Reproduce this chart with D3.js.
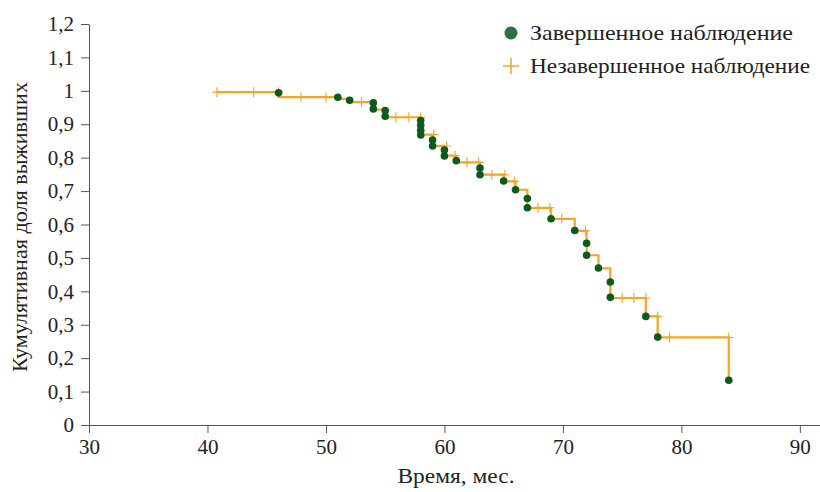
<!DOCTYPE html>
<html>
<head>
<meta charset="utf-8">
<script src="https://cdn.jsdelivr.net/npm/d3@7"></script>
<style>
  body { margin: 0; background: #fff; }
  svg text { font-family: "Liberation Serif", "DejaVu Serif", serif; fill: #222; }
</style>
</head>
<body>
<div id="chart"></div>
<script>
// step line of the survival curve: [time, cumulative share]
const stepTimes  = [40.8, 46, 51, 52, 54, 55, 58, 59, 60, 61, 63, 65, 66, 67, 69, 71, 72, 73, 74, 77, 78, 84];
const stepValues = [0.996, 0.981, 0.976, 0.966, 0.944, 0.921, 0.869, 0.835, 0.806, 0.786, 0.749, 0.729, 0.704, 0.650, 0.617, 0.581, 0.508, 0.469, 0.380, 0.325, 0.262, 0.134];

// completed observations (events)
const eventTimes  = [46, 51, 52, 54, 54, 55, 55, 58, 58, 58, 58, 59, 59, 60, 60, 61, 63, 63, 65, 66, 67, 67, 69, 71, 72, 72, 73, 74, 74, 77, 78, 84];
const eventValues = [0.994, 0.981, 0.972, 0.964, 0.946, 0.941, 0.924, 0.911, 0.897, 0.882, 0.868, 0.853, 0.835, 0.823, 0.805, 0.791, 0.769, 0.749, 0.730, 0.704, 0.678, 0.650, 0.617, 0.582, 0.544, 0.508, 0.470, 0.428, 0.382, 0.325, 0.263, 0.134];

// censored observations
const censTimes  = [40.8, 43.9, 46, 47.9, 50, 53, 55.9, 57, 58, 59.1, 60.2, 60.9, 61.9, 62.9, 64, 65.1, 65.9, 67.9, 68.9, 69.9, 71.9, 75, 76, 77, 78, 79, 84];
const censValues = [0.996, 0.996, 0.996, 0.981, 0.981, 0.966, 0.921, 0.921, 0.921, 0.869, 0.835, 0.806, 0.786, 0.786, 0.749, 0.749, 0.729, 0.650, 0.650, 0.617, 0.581, 0.380, 0.380, 0.380, 0.325, 0.262, 0.262];

const xTicks = [30, 40, 50, 60, 70, 80, 90];
const yTicks = [0, 0.1, 0.2, 0.3, 0.4, 0.5, 0.6, 0.7, 0.8, 0.9, 1, 1.1, 1.2];

const legendLabels = ['Завершенное наблюдение', 'Незавершенное наблюдение'];

const width = 820, height = 492;
const orange = '#F7A521', green = '#0B5A1E';

const svg = d3.select('#chart').append('svg')
  .attr('width', width)
  .attr('height', height);

const x = d3.scaleLinear().domain([30, 91.7]).range([89, 820]);
const y = d3.scaleLinear().domain([0, 1.2]).range([425, 24]);

const fmt = d => String(+d.toFixed(1)).replace('.', ',');

// x axis
const xAxis = svg.append('g')
  .attr('transform', `translate(0,${y(0)})`)
  .call(d3.axisBottom(x).tickValues(xTicks).tickSize(8).tickSizeOuter(0).tickPadding(6));
// y axis
const yAxis = svg.append('g')
  .attr('transform', `translate(${x(30)},0)`)
  .call(d3.axisLeft(y).tickValues(yTicks).tickFormat(fmt).tickSize(8).tickSizeOuter(0).tickPadding(7));

[xAxis, yAxis].forEach(g => {
  g.select('.domain').attr('stroke', '#555').attr('stroke-width', 1);
  g.selectAll('.tick line').attr('stroke', '#555');
  g.selectAll('.tick text').attr('font-size', 21).attr('fill', '#222')
    .style('font-family', '"Liberation Serif", "DejaVu Serif", serif');
});

svg.append('text')
  .attr('x', 456).attr('y', 483)
  .attr('text-anchor', 'middle')
  .attr('font-size', 21)
  .attr('textLength', 117)
  .attr('lengthAdjust', 'spacingAndGlyphs')
  .text('Время, мес.');

svg.append('text')
  .attr('transform', 'translate(27,227) rotate(-90)')
  .attr('text-anchor', 'middle')
  .attr('font-size', 21)
  .attr('textLength', 290)
  .attr('lengthAdjust', 'spacingAndGlyphs')
  .text('Кумулятивная доля выживших');

// survival step line
const stepData = stepTimes.map((t, i) => [t, stepValues[i]]);
const line = d3.line()
  .x(d => x(d[0]))
  .y(d => y(d[1]))
  .curve(d3.curveStepAfter);

svg.append('path')
  .datum(stepData)
  .attr('d', line)
  .attr('fill', 'none')
  .attr('stroke', orange)
  .attr('stroke-width', 2.2);

// censored marks
const cens = censTimes.map((t, i) => [t, censValues[i]]);
svg.append('g').selectAll('path')
  .data(cens)
  .enter()
  .append('path')
  .attr('d', d => `M${x(d[0]) - 4.5},${y(d[1])}H${x(d[0]) + 4.5}M${x(d[0])},${y(d[1]) - 5}V${y(d[1]) + 5}`)
  .attr('stroke', orange)
  .attr('stroke-width', 1.1)
  .attr('fill', 'none');

// events
const events = eventTimes.map((t, i) => [t, eventValues[i]]);
svg.append('g').selectAll('circle')
  .data(events)
  .enter()
  .append('circle')
  .attr('cx', d => x(d[0]))
  .attr('cy', d => y(d[1]))
  .attr('r', 3.8)
  .attr('fill', green);

// legend
const legend = svg.append('g');
legend.append('circle')
  .attr('cx', 511).attr('cy', 33).attr('r', 6.5)
  .attr('fill', '#2E7140');
legend.append('path')
  .attr('d', 'M503,66H519M511,58V74')
  .attr('stroke', orange)
  .attr('stroke-width', 1.5);
legend.selectAll('text')
  .data(legendLabels)
  .enter()
  .append('text')
  .attr('x', 530)
  .attr('y', (d, i) => 40 + i * 33)
  .attr('font-size', 22)
  .attr('textLength', (d, i) => i === 0 ? 263 : 280)
  .attr('lengthAdjust', 'spacingAndGlyphs')
  .text(d => d);
</script>
</body>
</html>
